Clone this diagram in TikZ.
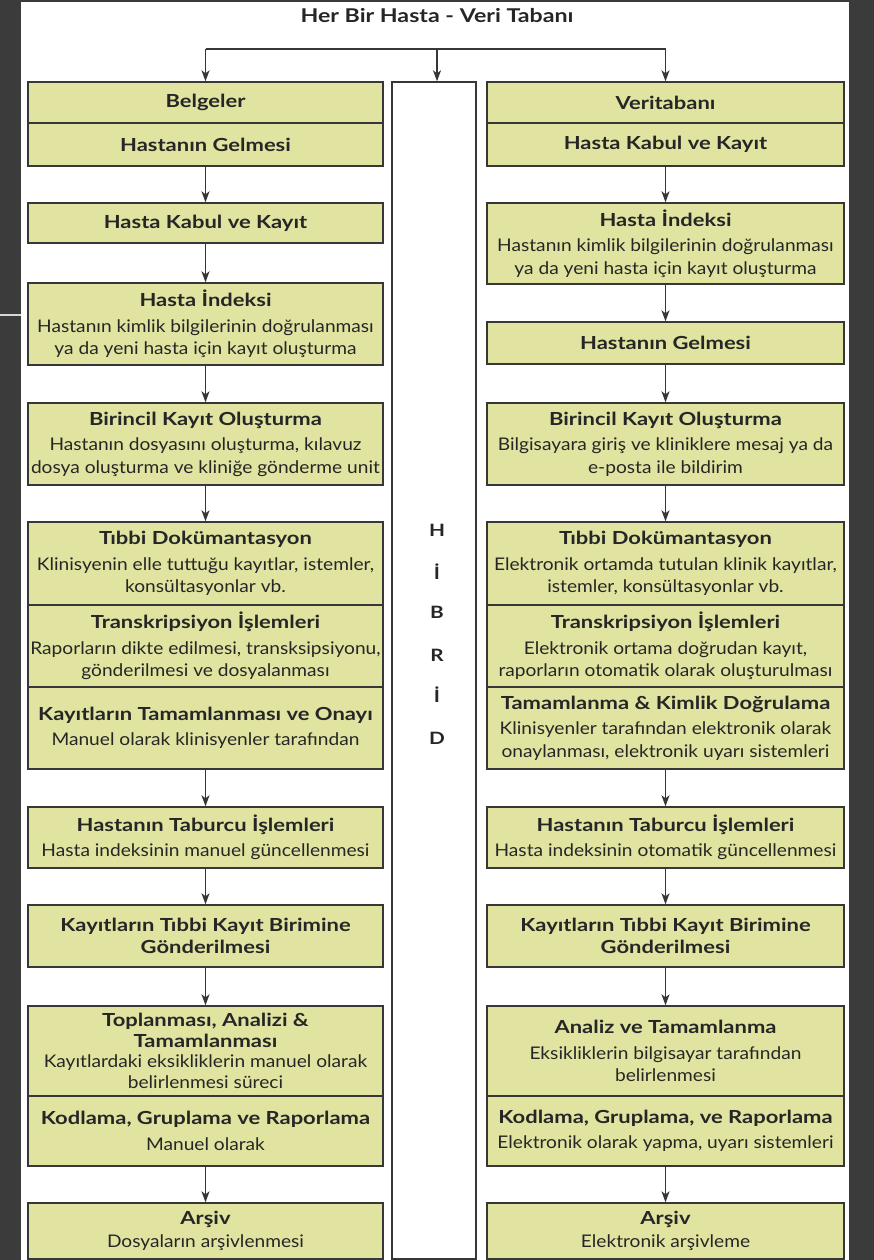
\documentclass[tikz,border=0pt]{standalone}
\usepackage{fontspec}
\setmainfont{Lato}[FakeStretch=1.1]
\newfontfamily\bfam{Lato}[FakeStretch=1.22]
\usetikzlibrary{arrows.meta}
\definecolor{boxfill}{RGB}{224,228,160}
\definecolor{bordergray}{RGB}{55,55,55}
\definecolor{bgdark}{RGB}{59,59,59}
\newcommand{\dsc}{\fontsize{17.4}{22.5}\selectfont}
\newcommand{\ttl}[1]{{\bfam\bfseries\fontsize{18}{22.5}\selectfont #1}}
\begin{document}
\begin{tikzpicture}[x=1pt,y=-1pt,
  box/.style={draw=bordergray, line width=1.4pt, fill=boxfill, align=center, inner sep=0pt, font=\dsc, text=black!85},
  lbox/.style={box, minimum width=355pt},
  rbox/.style={box, minimum width=357pt},
  arr/.style={draw=bordergray, line width=1.3pt, -{Stealth[length=11pt,width=8pt,inset=3pt]}},
  link/.style={draw=bordergray, line width=1.3pt},
  hl/.style={font=\bfam\bfseries\fontsize{17}{20}\selectfont, text=black!85}
]
\useasboundingbox (0,0) rectangle (874,1260);
\fill[bgdark] (0,0) rectangle (874,1260);
\fill[white] (21,2) rectangle (849,1260);
\draw[line width=2pt, draw={rgb,255:red,215;green,215;blue,215}] (0,315) -- (21,315);

\node[font=\bfam\bfseries\fontsize{19}{22}\selectfont, text=black!85] (title) at (437,16) {Her Bir Hasta - Veri Tabanı};

% HIBRID column
\node[draw=bordergray, line width=1.4pt, fill=white, minimum width=84pt, minimum height=1177pt, inner sep=0pt] (hib) at (434,670.5) {};
\foreach \ch/\yy [count=\i] in {H/530, İ/572, B/612, R/655, İ/695, D/738}
  \node[hl] (hib\i) at (437,\yy) {\ch};

% left column
\node[lbox, minimum height=41pt] (L0a) at (205.5,102.5) {\ttl{Belgeler}};
\node[lbox, minimum height=43pt] (L0b) at (205.5,144.5) {\ttl{Hastanın Gelmesi}};
\node[lbox, minimum height=40pt] (L1) at (205.5,223) {\ttl{Hasta Kabul ve Kayıt}};
\node[lbox, minimum height=82pt] (L2) at (205.5,324) {\ttl{Hasta İndeksi}\\[3pt]Hastanın kimlik bilgilerinin doğrulanması\\ya da yeni hasta için kayıt oluşturma};
\node[lbox, minimum height=82pt] (L3) at (205.5,444) {\ttl{Birincil Kayıt Oluşturma}\\[3pt]Hastanın dosyasını oluşturma, kılavuz\\dosya oluşturma ve kliniğe gönderme unit};
\node[lbox, minimum height=83pt] (L4a) at (205.5,563.5) {\ttl{Tıbbi Dokümantasyon}\\[3pt]Klinisyenin elle tuttuğu kayıtlar, istemler,\\konsültasyonlar vb.};
\node[lbox, minimum height=82pt] (L4b) at (205.5,646) {\ttl{Transkripsiyon İşlemleri}\\[3pt]Raporların dikte edilmesi, transksipsiyonu,\\gönderilmesi ve dosyalanması};
\node[lbox, minimum height=82pt] (L4c) at (205.5,728) {\ttl{Kayıtların Tamamlanması ve Onayı}\\[3pt]Manuel olarak klinisyenler tarafından};
\node[lbox, minimum height=61pt] (L5) at (205.5,837.5) {\ttl{Hastanın Taburcu İşlemleri}\\[3pt]Hasta indeksinin manuel güncellenmesi};
\node[lbox, minimum height=62pt] (L6) at (205.5,936) {\ttl{Kayıtların Tıbbi Kayıt Birimine}\\\ttl{Gönderilmesi}};
\node[lbox, minimum height=90pt, font=\fontsize{17.4}{20.5}\selectfont] (L7a) at (205.5,1051) {\ttl{Toplanması, Analizi \&}\\\ttl{Tamamlanması}\\Kayıtlardaki eksikliklerin manuel olarak\\belirlenmesi süreci};
\node[lbox, minimum height=70pt] (L7b) at (205.5,1131) {\ttl{Kodlama, Gruplama ve Raporlama}\\[3pt]Manuel olarak};
\node[lbox, minimum height=56pt] (L8) at (205.5,1231) {\ttl{Arşiv}\\Dosyaların arşivlenmesi};

% right column
\node[rbox, minimum height=41pt] (R0a) at (665.5,102.5) {\ttl{Veritabanı}};
\node[rbox, minimum height=43pt] (R0b) at (665.5,144.5) {\ttl{Hasta Kabul ve Kayıt}};
\node[rbox, minimum height=81pt] (R1) at (665.5,243.5) {\ttl{Hasta İndeksi}\\[3pt]Hastanın kimlik bilgilerinin doğrulanması\\ya da yeni hasta için kayıt oluşturma};
\node[rbox, minimum height=42pt] (R2) at (665.5,343) {\ttl{Hastanın Gelmesi}};
\node[rbox, minimum height=82pt] (R3) at (665.5,444) {\ttl{Birincil Kayıt Oluşturma}\\[3pt]Bilgisayara giriş ve kliniklere mesaj ya da\\e-posta ile bildirim};
\node[rbox, minimum height=83pt] (R4a) at (665.5,563.5) {\ttl{Tıbbi Dokümantasyon}\\[3pt]Elektronik ortamda tutulan klinik kayıtlar,\\istemler, konsültasyonlar vb.};
\node[rbox, minimum height=82pt] (R4b) at (665.5,646) {\ttl{Transkripsiyon İşlemleri}\\[3pt]Elektronik ortama doğrudan kayıt,\\raporların otomatik olarak oluşturulması};
\node[rbox, minimum height=82pt] (R4c) at (665.5,728) {\ttl{Tamamlanma \& Kimlik Doğrulama}\\[3pt]Klinisyenler tarafından elektronik olarak\\onaylanması, elektronik uyarı sistemleri};
\node[rbox, minimum height=61pt] (R5) at (665.5,837.5) {\ttl{Hastanın Taburcu İşlemleri}\\[3pt]Hasta indeksinin otomatik güncellenmesi};
\node[rbox, minimum height=62pt] (R6) at (665.5,936) {\ttl{Kayıtların Tıbbi Kayıt Birimine}\\\ttl{Gönderilmesi}};
\node[rbox, minimum height=90pt] (R7a) at (665.5,1051) {\ttl{Analiz ve Tamamlanma}\\[3pt]Eksikliklerin bilgisayar tarafından\\belirlenmesi};
\node[rbox, minimum height=70pt] (R7b) at (665.5,1131) {\ttl{Kodlama, Gruplama, ve Raporlama}\\[3pt]Elektronik olarak yapma, uyarı sistemleri};
\node[rbox, minimum height=56pt] (R8) at (665.5,1231) {\ttl{Arşiv}\\Elektronik arşivleme};

% top distribution
\coordinate (tl) at (205.5,49);
\coordinate (tm) at (437,49);
\coordinate (tr) at (665.5,49);
\draw[link] (tl) -- (tr);
\draw[arr] (tl) -- (L0a.north);
\draw[arr] (tm) -- (tm |- hib.north);
\draw[arr] (tr) -- (R0a.north);

% left arrows
\draw[arr] (L0b) -- (L1);
\draw[arr] (L1) -- (L2);
\draw[arr] (L2) -- (L3);
\draw[arr] (L3) -- (L4a);
\draw[arr] (L4c) -- (L5);
\draw[arr] (L5) -- (L6);
\draw[arr] (L6) -- (L7a);
\draw[arr] (L7b) -- (L8);
% right arrows
\draw[arr] (R0b) -- (R1);
\draw[arr] (R1) -- (R2);
\draw[arr] (R2) -- (R3);
\draw[arr] (R3) -- (R4a);
\draw[arr] (R4c) -- (R5);
\draw[arr] (R5) -- (R6);
\draw[arr] (R6) -- (R7a);
\draw[arr] (R7b) -- (R8);
\end{tikzpicture}
\end{document}
